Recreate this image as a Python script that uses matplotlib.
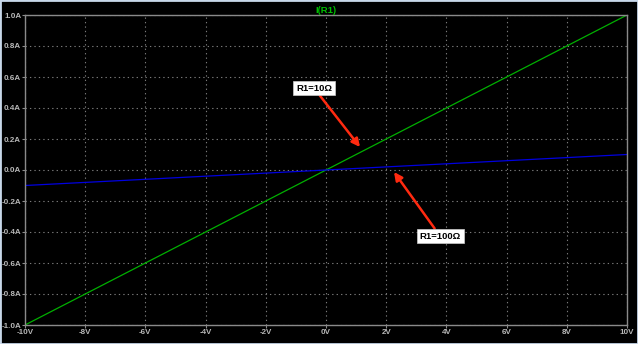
import numpy as np
import matplotlib.pyplot as plt
from matplotlib.patches import Rectangle

# sweep of V1 and the current through R1 for two resistor values
v_sweep = [-10, 10]
i_r10 = [-1.0, 1.0]
i_r100 = [-0.1, 0.1]

x_ticks = [-10, -8, -6, -4, -2, 0, 2, 4, 6, 8, 10]
y_ticks = [-1.0, -0.8, -0.6, -0.4, -0.2, 0.0, 0.2, 0.4, 0.6, 0.8, 1.0]

label_font = ['Liberation Sans', 'DejaVu Sans']

fig = plt.figure(figsize=(6.38, 3.44), dpi=100)
fig.patch.set_facecolor('black')
ax = fig.add_axes([25 / 638, 19 / 344, 602 / 638, 310 / 344])
ax.set_facecolor('black')

ax.plot(v_sweep, i_r10, color='#00b000', lw=0.9)
ax.plot(v_sweep, i_r100, color='#0000e0', lw=0.9)

ax.set_xlim(-10, 10)
ax.set_ylim(-1, 1)
ax.set_xticks(x_ticks)
ax.set_yticks(y_ticks)
ax.set_xticklabels([f'{v}V' for v in x_ticks])
ax.set_yticklabels([f'{a:.1f}A' for a in y_ticks])
ax.tick_params(colors='#8a8a8a', labelsize=5.8, length=2.5, width=0.8, pad=0.3)
for lab in ax.get_xticklabels() + ax.get_yticklabels():
    lab.set_color('#b8b8b8')
    lab.set_family(label_font)
    lab.set_fontweight('bold')
ax.grid(True, color='#7a7a7a', linestyle=(0, (1.2, 2.8)), lw=0.8)
for s in ax.spines.values():
    s.set_color('#8a8a8a')
    s.set_linewidth(1.0)

ax.set_title('I(R1)', color='#00c000', fontsize=6.8, fontweight='bold', pad=1,
             family=label_font)

box = dict(boxstyle='square,pad=0.3', fc='white', ec='#cccccc', lw=0.5)
arrow = dict(arrowstyle='-|>', color='#ff2a10', lw=1.8, mutation_scale=12,
             shrinkA=0, shrinkB=0)
ax.annotate('R1=10Ω', xy=(1.13, 0.148), xytext=(-0.40, 0.529),
            fontsize=6.8, fontweight='bold', ha='center', va='center',
            family=label_font, bbox=box, arrowprops=arrow)
ax.annotate('R1=100Ω', xy=(2.26, -0.013), xytext=(3.79, -0.426),
            fontsize=6.8, fontweight='bold', ha='center', va='center',
            family=label_font, bbox=box, arrowprops=arrow)

# window frame around the plot pane
fig.patches.append(Rectangle((0, 0), 1, 1, transform=fig.transFigure,
                             fill=False, ec='#c8d8ea', lw=2.0, zorder=-1))

fig.savefig('out.png', dpi=100, facecolor=fig.get_facecolor())
